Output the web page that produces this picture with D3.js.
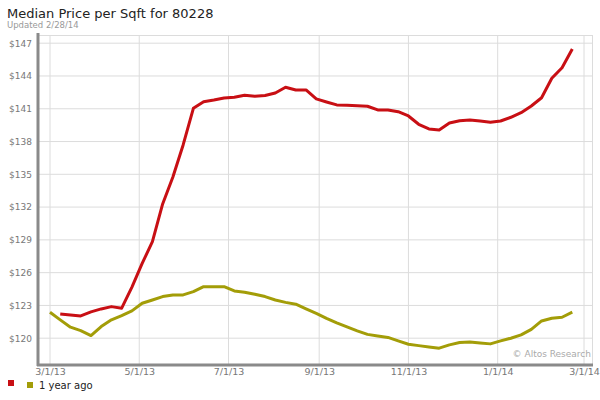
<!DOCTYPE html>
<html><head><meta charset="utf-8">
<script src="https://cdn.jsdelivr.net/npm/d3@7"></script>
<style>body{margin:0;background:#fff}svg{display:block}text{font-family:"DejaVu Sans",Verdana,sans-serif}</style>
</head><body><svg id="c" width="600" height="400"></svg>
<script>
const dates = ["2013-03-01","2013-03-08","2013-03-15","2013-03-22","2013-03-29","2013-04-05","2013-04-12","2013-04-19","2013-04-26","2013-05-03","2013-05-10","2013-05-17","2013-05-24","2013-05-31","2013-06-07","2013-06-14","2013-06-21","2013-06-28","2013-07-05","2013-07-12","2013-07-19","2013-07-26","2013-08-02","2013-08-09","2013-08-16","2013-08-23","2013-08-30","2013-09-06","2013-09-13","2013-09-20","2013-09-27","2013-10-04","2013-10-11","2013-10-18","2013-10-25","2013-11-01","2013-11-08","2013-11-15","2013-11-22","2013-11-29","2013-12-06","2013-12-13","2013-12-20","2013-12-27","2014-01-03","2014-01-10","2014-01-17","2014-01-24","2014-01-31","2014-02-07","2014-02-14","2014-02-21"];
const current = [null,122.22,122.13,122.04,122.41,122.68,122.89,122.75,124.68,126.84,128.84,132.29,134.76,137.69,141.04,141.65,141.80,141.99,142.05,142.23,142.14,142.21,142.44,142.97,142.72,142.72,141.90,141.62,141.35,141.33,141.28,141.23,140.89,140.89,140.73,140.34,139.58,139.15,139.06,139.70,139.91,139.97,139.88,139.76,139.88,140.22,140.64,141.25,142.01,143.79,144.76,146.47];
const yearAgo = [122.38,121.68,121.01,120.70,120.24,121.06,121.68,122.07,122.50,123.20,123.50,123.81,123.96,123.96,124.26,124.72,124.72,124.72,124.33,124.21,124.03,123.81,123.50,123.28,123.11,122.68,122.27,121.81,121.40,121.03,120.67,120.35,120.21,120.07,119.75,119.45,119.32,119.20,119.09,119.39,119.60,119.66,119.57,119.48,119.75,120.00,120.30,120.81,121.58,121.83,121.92,122.38];
const yTicks = [120,123,126,129,132,135,138,141,144,147];
const xTicks = ["2013-03-01","2013-05-01","2013-07-01","2013-09-01","2013-11-01","2014-01-01","2014-03-01"];
const seriesNames = ["", "1 year ago"];
const colors = ["#c80f14", "#a39d08"];

const parse = d3.timeParse("%Y-%m-%d");
const svg = d3.select("#c");
const L = 38, R = 593, T = 35, B = 365;
const x = d3.scaleTime().domain([parse("2013-03-01"), parse("2014-03-01")]).range([50, 584]);
const y = d3.scaleLinear().domain([120, 147]).range([338.2, 43.2]);

// title
svg.append("text").attr("x", 7).attr("y", 17.5).attr("font-size", 13).attr("fill", "#222").text("Median Price per Sqft for 80228");
svg.append("text").attr("x", 7).attr("y", 28).attr("font-size", 8.5).attr("fill", "#999").text("Updated 2/28/14");

// grid
const g = svg.append("g");
g.selectAll(".hg").data(yTicks).join("line").attr("x1", L).attr("x2", R)
  .attr("y1", d => y(d)).attr("y2", d => y(d)).attr("stroke", "#dcdcdc").attr("stroke-width", 1);
g.selectAll(".vg").data(xTicks).join("line").attr("y1", T).attr("y2", B)
  .attr("x1", d => x(parse(d))).attr("x2", d => x(parse(d))).attr("stroke", "#dcdcdc").attr("stroke-width", 1);
g.append("line").attr("x1", L).attr("x2", R).attr("y1", T + 0.5).attr("y2", T + 0.5).attr("stroke", "#dcdcdc");
g.append("line").attr("x1", R - 0.5).attr("x2", R - 0.5).attr("y1", T).attr("y2", B).attr("stroke", "#dcdcdc");

// axes labels
const yAxis = d3.axisLeft(y).tickValues(yTicks).tickSize(0).tickPadding(0).tickFormat(d => "$" + d);
const ya = svg.append("g").attr("transform", "translate(32,0)").call(yAxis);
ya.select(".domain").remove();
ya.selectAll("text").attr("font-size", 9).attr("fill", "#777").attr("font-family", "DejaVu Sans");

const xAxis = d3.axisBottom(x).tickValues(xTicks.map(parse)).tickSize(0).tickPadding(0).tickFormat(d3.timeFormat("%-m/%-d/%y"));
const xa = svg.append("g").attr("transform", "translate(0,368.5)").call(xAxis);
xa.select(".domain").remove();
xa.selectAll("text").attr("font-size", 9.5).attr("fill", "#777").attr("font-family", "DejaVu Sans");

// frame axes lines
svg.append("line").attr("x1", 38).attr("x2", 38).attr("y1", 33).attr("y2", 366).attr("stroke", "#8a8a8a").attr("stroke-width", 3);
svg.append("line").attr("x1", 37).attr("x2", 593).attr("y1", 365).attr("y2", 365).attr("stroke", "#8a8a8a").attr("stroke-width", 3);

// copyright
svg.append("text").attr("x", 591).attr("y", 357).attr("text-anchor", "end").attr("font-size", 9).attr("fill", "#aaa").text("\u00a9 Altos Research");

// lines
const line = d3.line().defined(d => d.v != null).x(d => x(parse(d.d))).y(d => y(d.v));
[current, yearAgo].forEach((s, i) => {
  const data = dates.map((d, j) => ({d, v: s[j]}));
  svg.append("path").datum(data).attr("d", line).attr("fill", "none")
    .attr("stroke", colors[i]).attr("stroke-width", 3).attr("stroke-linejoin", "round");
});

// legend
svg.append("rect").attr("x", 8).attr("y", 380).attr("width", 6).attr("height", 6).attr("fill", colors[0]);
svg.append("text").attr("x", 17).attr("y", 386).attr("font-size", 10).attr("fill", "#222").text(seriesNames[0]);
svg.append("rect").attr("x", 27).attr("y", 382).attr("width", 6).attr("height", 6).attr("fill", colors[1]);
svg.append("text").attr("x", 39).attr("y", 389).attr("font-size", 10).attr("fill", "#222").text(seriesNames[1]);
</script></body></html>
